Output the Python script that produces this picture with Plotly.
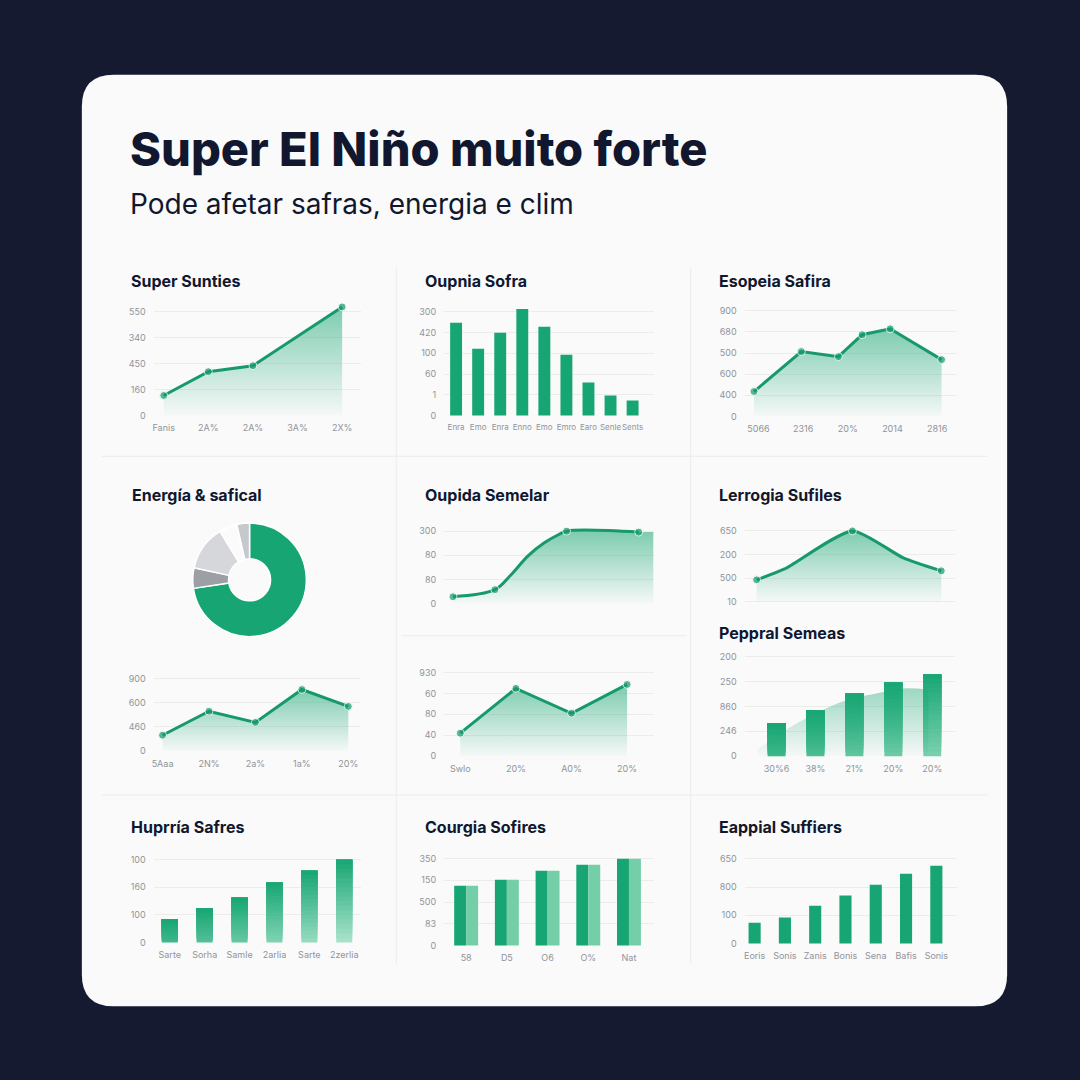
import plotly.graph_objects as go

W = H = 1080
BG = "#151a31"
CARD = "#fafafa"
GREEN = "#17a673"
LINEC = "#169a6b"
LIGHTBAR = "#74cfa8"
GRID = "#ececec"
TICKC = "#8f949c"
TXT = "#10172e"
FONT = "Inter"

# ---------------- data ----------------
p1_title = "Super Sunties"
p1_x = [0, 1, 2, 4]
p1_y = [77, 169, 192, 419]
p1_xlabels = ["Fanis", "2A%", "2A%", "3A%", "2X%"]
p1_ylabels = ["0", "160", "450", "340", "550"]

p2_title = "Oupnia Sofra"
p2_y = [447, 322, 399, 514, 428, 293, 159, 96, 72]
p2_xlabels = ["Enra", "Emo", "Enra", "Enno", "Emo", "Emro", "Earo", "Senle", "Sents"]
p2_ylabels = ["0", "1", "60", "100", "420", "300"]

p3_title = "Esopeia Safira"
p3_x = [-0.1, 0.96, 1.79, 2.32, 2.95, 4.1]
p3_y = [118, 307, 283, 387, 415, 269]
p3_xlabels = ["5066", "2316", "20%", "2014", "2816"]
p3_ylabels = ["0", "400", "600", "500", "680", "900"]

p4_title = "Energía & safical"
p4_labels = ["A", "B", "C", "D", "E"]
p4_values = [72.6, 5.8, 12.9, 5.1, 3.6]
p4_colors = [GREEN, "#9c9fa4", "#d5d7da", "#fbfbfb", "#c5c8cc"]

p5_title = "Oupida Semelar"
p5_x = [0, 1, 1.38, 1.79, 2.17, 2.5, 2.71, 4.43]
p5_y = [29, 58, 119, 198, 251, 284, 300, 296]
p5_marked = [True, True, False, False, False, False, True, True]
p5_fill_end = 4.78
p5_ylabels = ["0", "80", "80", "300"]

p6_title = "Lerrogia Sufiles"
p6_x = [0, 1, 3.43, 5.25, 6.61]
p6_y = [93, 139, 300, 186, 131]
p6_marked = [True, False, True, False, True]
p6_ylabels = ["10", "500", "200", "650"]

p7_y = [66, 165, 119, 255, 185]
p7_xlabels = ["5Aaa", "2N%", "2a%", "1a%", "20%"]
p7_ylabels = ["0", "460", "600", "900"]

p8_y = [110, 324, 205, 343]
p8_xlabels = ["Swlo", "20%", "A0%", "20%"]
p8_ylabels = ["0", "40", "80", "60", "930"]

p9_title = "Peppral Semeas"
p9_bars = [132, 184, 252, 296, 328]
p9_area_x = [-0.49, 0.5, 1.77, 2.5, 3.25, 3.9]
p9_area_y = [28, 130, 224, 250, 272, 268]
p9_xlabels = ["30%6", "38%", "21%", "20%", "20%"]
p9_ylabels = ["0", "246", "860", "250", "200"]

p10_title = "Huprría Safres"
p10_bars = [83, 123, 162, 217, 260, 300]
p10_xlabels = ["Sarte", "Sorha", "Samle", "2arlia", "Sarte", "2zerlia"]
p10_ylabels = ["0", "100", "160", "100"]

p11_title = "Courgia Sofires"
p11_a = [275, 303, 344, 372, 399]
p11_b = [275, 303, 344, 372, 399]
p11_xlabels = ["58", "D5", "O6", "O%", "Nat"]
p11_ylabels = ["0", "83", "500", "150", "350"]

p12_title = "Eappial Suffiers"
p12_bars = [74, 92, 134, 170, 208, 247, 276]
p12_xlabels = ["Eoris", "Sonis", "Zanis", "Bonis", "Sena", "Bafis", "Sonis"]
p12_ylabels = ["0", "100", "800", "650"]

main_title = "Super El Niño muito forte"
sub_title = "Pode afetar safras, energia e clim"

# ---------------- helpers ----------------
fig = go.Figure()
axes = {}
annotations = []
shapes = []


def make_axes(n, gx0, gx1, xr, ybot, spacing, ylabels, xlabels=None, pad_top=14, step=100, xfs=9):
    nt = len(ylabels)
    top_grid = ybot - spacing * (nt - 1)
    dom_top = top_grid - pad_top
    dom_bot = ybot + 1
    per_px = step / spacing
    yr = [-(dom_bot - ybot) * per_px, (ybot - dom_top) * per_px]
    s = "" if n == 1 else str(n)
    axes["xaxis" + s] = dict(
        domain=[gx0 / W, gx1 / W], range=xr, anchor="y" + s, showgrid=False,
        zeroline=False, showline=False, fixedrange=True,
        tickvals=list(range(len(xlabels))) if xlabels else [],
        ticktext=xlabels or [], showticklabels=bool(xlabels), tickangle=0,
        tickfont=dict(size=xfs, color=TICKC, family=FONT), ticks="", ticklabelstandoff=5)
    axes["yaxis" + s] = dict(
        domain=[1 - dom_bot / H, 1 - dom_top / H], range=yr, anchor="x" + s,
        showgrid=True, gridcolor=GRID, gridwidth=1, zeroline=False, showline=False,
        fixedrange=True, tickvals=[i * step for i in range(nt)], ticktext=ylabels,
        tickfont=dict(size=9, color=TICKC, family=FONT), ticks="", ticklabelstandoff=7)
    return "x" + s, "y" + s


def area(ax, ay, x, y, ymax, fx=None, fy=None, marked=None, shape="linear", alpha=0.55,
         line=True, smoothing=1.0):
    fx = x if fx is None else fx
    fy = y if fy is None else fy
    fig.add_trace(go.Scatter(
        x=fx, y=fy, mode="lines", line=dict(width=0, shape=shape, smoothing=smoothing), fill="tozeroy",
        fillgradient=dict(type="vertical", start=0, stop=ymax,
                          colorscale=[[0, "rgba(23,166,115,0.02)"], [1, f"rgba(23,166,115,{alpha})"]]),
        xaxis=ax, yaxis=ay, showlegend=False, hoverinfo="skip"))
    if line:
        sizes = [8 if m else 0 for m in (marked or [True] * len(x))]
        fig.add_trace(go.Scatter(
            x=x, y=y, mode="lines+markers",
            line=dict(color=LINEC, width=3, shape=shape, smoothing=smoothing),
            marker=dict(size=sizes, color=LINEC), cliponaxis=False,
            xaxis=ax, yaxis=ay, showlegend=False))


def bars(ax, ay, xs, vals, width, color, offset=None):
    fig.add_trace(go.Bar(x=xs, y=vals, width=width, offset=offset,
                         marker=dict(color=color, line=dict(width=0)),
                         xaxis=ax, yaxis=ay, showlegend=False))


def grad_bars(ax, ay, xs, vals, width, ymax, top=(23, 166, 115), bot=(170, 228, 205), K=18):
    for k in range(K):
        bases = [v * k / K for v in vals]
        heights = [v - b for v, b in zip(vals, bases)]
        cols = []
        for v in vals:
            depth = v * (1 - (k + 0.5) / K)
            t = min(depth / ymax, 1)
            c = tuple(round(top[i] + (bot[i] - top[i]) * t) for i in range(3))
            cols.append("rgb(%d,%d,%d)" % c)
        fig.add_trace(go.Bar(x=xs, y=heights, base=bases, width=width,
                             marker=dict(color=cols, line=dict(width=0)),
                             xaxis=ax, yaxis=ay, showlegend=False, hoverinfo="skip"))


def title(text, px, py, size=16):
    annotations.append(dict(text=f"<b>{text}</b>", x=(px - 3) / W, y=1 - py / H, xref="paper", yref="paper",
                            xanchor="left", yanchor="middle", showarrow=False,
                            font=dict(size=size, color=TXT, family=FONT)))


# ---------------- card & dividers ----------------
x0, x1, y0, y1, r = 80 / W, 1007 / W, 1 - 1010 / H, 1 - 75 / H, 32 / W
card_path = (f"M {x0+r},{y0} L {x1-r},{y0} Q {x1},{y0} {x1},{y0+r} L {x1},{y1-r} Q {x1},{y1} {x1-r},{y1} "
             f"L {x0+r},{y1} Q {x0},{y1} {x0},{y1-r} L {x0},{y0+r} Q {x0},{y0} {x0+r},{y0} Z")
shapes.append(dict(type="path", path=card_path, xref="paper", yref="paper",
                   fillcolor=CARD, line=dict(width=0), layer="below"))
for (ax0, ay0, ax1, ay1) in [(395, 268, 395, 968), (690, 268, 690, 968),
                             (100, 458, 988, 458), (100, 798, 988, 798), (400, 638, 686, 638)]:
    shapes.append(dict(type="line", xref="paper", yref="paper", x0=ax0 / W, x1=ax1 / W,
                       y0=1 - ay0 / H, y1=1 - ay1 / H, line=dict(color="#ececec", width=1), layer="below"))

# ---------------- panels ----------------
# 1
ax, ay = make_axes(1, 152, 360, [-0.224, 4.43], 417, 26, p1_ylabels, p1_xlabels)
area(ax, ay, p1_x, p1_y, 419)
title(p1_title, 130, 282)

# 2
ax, ay = make_axes(2, 443, 653, [-0.54, 8.96], 417, 20.8, p2_ylabels, p2_xlabels, xfs=8)
bars(ax, ay, list(range(len(p2_y))), p2_y, 0.54, GREEN)
title(p2_title, 425, 282)

# 3
ax, ay = make_axes(3, 744, 957, [-0.31, 4.45], 418, 21.2, p3_ylabels, p3_xlabels)
area(ax, ay, p3_x, p3_y, 415)
title(p3_title, 719, 282)

# 4 donut
fig.add_trace(go.Pie(labels=p4_labels, values=p4_values, hole=0.37, sort=False, direction="clockwise",
                     rotation=0, textinfo="none", showlegend=False,
                     marker=dict(colors=p4_colors, line=dict(color="#ffffff", width=1.5)),
                     domain=dict(x=[191 / W, 305 / W], y=[1 - 639 / H, 1 - 525 / H])))
title(p4_title, 131, 497)

# 5
ax, ay = make_axes(5, 443, 653, [-0.21, 4.79], 606, 24.3, p5_ylabels)
area(ax, ay, p5_x, p5_y, 300, fx=p5_x + [p5_fill_end], fy=p5_y + [p5_y[-1]],
     marked=p5_marked, shape="spline", smoothing=1.0)
title(p5_title, 425, 497)

# 6
ax, ay = make_axes(6, 744, 955, [-0.43, 7.11], 604, 23.7, p6_ylabels)
area(ax, ay, p6_x, p6_y, 300, marked=p6_marked, shape="spline", smoothing=0.6)
title(p6_title, 719, 497)

# 7
ax, ay = make_axes(7, 152, 360, [-0.19, 4.28], 754, 24.3, p7_ylabels, p7_xlabels)
area(ax, ay, list(range(len(p7_y))), p7_y, 255)

# 8
ax, ay = make_axes(8, 443, 653, [-0.29, 3.48], 759, 21, p8_ylabels, p8_xlabels)
area(ax, ay, list(range(len(p8_y))), p8_y, 343)

# 9
ax, ay = make_axes(9, 744, 955, [-0.82, 4.59], 759, 25, p9_ylabels, p9_xlabels)
area(ax, ay, p9_area_x, p9_area_y, 280, shape="spline", alpha=0.42, line=False)
grad_bars(ax, ay, list(range(len(p9_bars))), p9_bars, 0.46, 420, bot=(150, 220, 192))
title(p9_title, 719, 635)

# 10
ax, ay = make_axes(10, 152, 360, [-0.46, 5.49], 946, 27.7, p10_ylabels, p10_xlabels)
grad_bars(ax, ay, list(range(len(p10_bars))), p10_bars, 0.46, 300)
title(p10_title, 130, 830)

# 11
ax, ay = make_axes(11, 443, 653, [-0.54, 4.61], 949, 21.8, p11_ylabels, p11_xlabels)
bars(ax, ay, list(range(len(p11_a))), p11_a, 0.294, GREEN, offset=-0.294)
bars(ax, ay, list(range(len(p11_b))), p11_b, 0.294, LIGHTBAR, offset=0)
title(p11_title, 425, 830)

# 12
ax, ay = make_axes(12, 744, 957, [-0.33, 6.69], 947, 28.3, p12_ylabels, p12_xlabels)
bars(ax, ay, list(range(len(p12_bars))), p12_bars, 0.4, GREEN)
title(p12_title, 719, 830)

# main titles
annotations.append(dict(text=main_title, x=126 / W, y=1 - 149 / H, xref="paper", yref="paper",
                        xanchor="left", yanchor="middle", showarrow=False,
                        font=dict(size=47, color=TXT, family=FONT, weight=800)))
annotations.append(dict(text=sub_title, x=126 / W, y=1 - 205 / H, xref="paper", yref="paper",
                        xanchor="left", yanchor="middle", showarrow=False,
                        font=dict(size=28, color=TXT, family=FONT)))

fig.update_layout(
    width=W, height=H, autosize=False, margin=dict(l=0, r=0, t=0, b=0),
    paper_bgcolor=BG, plot_bgcolor="rgba(0,0,0,0)", barmode="overlay",
    shapes=shapes, annotations=annotations, hovermode=False,
    font=dict(family=FONT), **axes)

fig.write_html("out.html", config={"displayModeBar": False},
               post_script="document.body.style.margin='0';document.body.style.background='%s';" % BG)
